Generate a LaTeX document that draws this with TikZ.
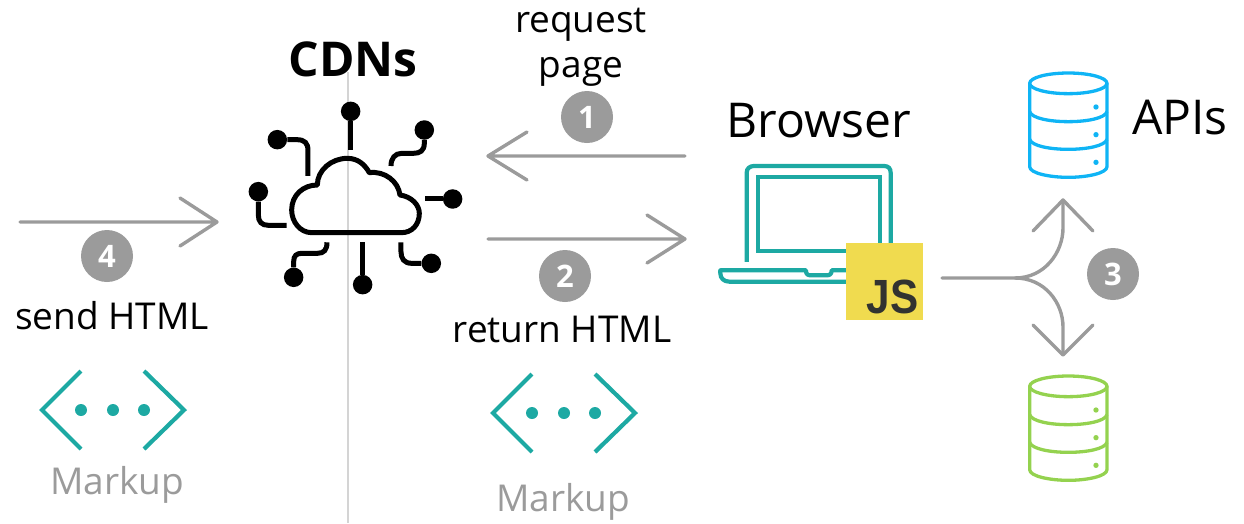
\documentclass[tikz,border=0pt]{standalone}
\usepackage{fontspec}
\setmainfont{Open Sans}
\newfontfamily\jsfont{Liberation Sans}
\definecolor{teal1}{HTML}{1DA9A3}
\definecolor{gr}{HTML}{9B9B9B}
\definecolor{blue1}{HTML}{0FB4F5}
\definecolor{green1}{HTML}{94D24F}
\definecolor{jsy}{HTML}{F0DB4F}
\definecolor{jsd}{HTML}{323330}
\tikzset{
 lbl/.style={anchor=base,inner sep=0pt,font=\fontsize{37}{37}\selectfont,text=black},
 mk/.style={anchor=base,inner sep=0pt,font=\fontsize{37}{37}\selectfont,text=gr},
 flow/.style={draw=gr,line width=3.4pt,line cap=round,line join=round},
 num/.style={circle,fill=gr,minimum size=52pt,inner sep=0pt,text=white,font=\fontsize{31}{31}\selectfont\bfseries},
 tealline/.style={draw=teal1,line width=4.2pt},
 blk/.style={draw=black,line width=5pt},
 pin/.style={circle,fill=black,minimum size=19.5pt,inner sep=0pt},
 dbline/.style={line width=3.3pt,line join=round},
}
\newcommand{\markupicon}[3]{%
 \begin{scope}[shift={(#1,#2)}]
  \draw[tealline] (-32,-39)--(-71,0)--(-32,39);
  \draw[tealline] (31,-39)--(71,0)--(31,39);
  \foreach \xx/\nn in {-32/a,0/b,31/c}{\fill[teal1] (\xx,0) circle (6);}
 \end{scope}}
\newcommand{\dbicon}[3]{%
 \begin{scope}[shift={(#1,#2)},x=0.3333pt,y=-0.3333pt]
  \draw[#3,dbline] (415,70) ellipse [x radius=116,y radius=31];
  \draw[#3,dbline] (299,70)--(299,320) .. controls (299,340) and (360,352) .. (415,352) .. controls (470,352) and (531,340) .. (531,320)--(531,70);
  \draw[#3,dbline] (299,155) .. controls (305,175) and (360,185) .. (415,185) .. controls (470,185) and (525,175) .. (531,155);
  \draw[#3,dbline] (299,238) .. controls (305,258) and (360,268) .. (415,268) .. controls (470,268) and (525,258) .. (531,238);
  \foreach \yy in {141,224,307}{\fill[#3] (498,\yy) circle (8);}
 \end{scope}}
\begin{document}
\begin{tikzpicture}[x=1pt,y=-1pt]
\useasboundingbox (0,0) rectangle (1244,523);
% divider
\coordinate (vt) at (348,72);
\coordinate (vb) at (348,523);
\draw[draw=black!17,line width=1.1pt] (vt)--(vb);
% cloud icon
\begin{scope}[shift={(230,80)},x=0.3333pt,y=-0.3333pt]
 \draw[blk,line join=round] (245,458) .. controls (210,458) and (185,425) .. (185,390) .. controls (185,345) and (220,315) .. (262,315)
   .. controls (262,270) and (305,235) .. (352,235) .. controls (385,235) and (405,255) .. (418,278)
   .. controls (465,272) and (505,305) .. (510,345) .. controls (545,350) and (568,375) .. (568,400) .. controls (568,435) and (545,458) .. (515,458) -- cycle;
 \node[pin] (p1) at (362,94) {}; \draw[blk] (p1)--(362,210);
 \node[pin] (p2) at (583,150) {}; \draw[blk] (p2)--(583,190) .. controls (583,212) and (570,220) .. (550,220) -- (515,220) .. controls (495,220) and (483,235) .. (483,258);
 \node[pin] (p3) at (142,179) {}; \draw[blk] (p3)--(200,179) .. controls (225,179) and (234,190) .. (234,212) -- (234,288);
 \node[pin] (p4) at (85,335) {}; \draw[blk] (p4)--(85,405) .. controls (85,425) and (95,436) .. (115,436) -- (170,436);
 \node[pin] (p5) at (668,357) {}; \draw[blk] (p5)--(584,357);
 \node[pin] (p6) at (191,592) {}; \draw[blk] (p6)--(191,545) .. controls (191,527) and (200,520) .. (215,520) -- (262,520) .. controls (282,520) and (291,510) .. (291,487);
 \node[pin] (p7) at (398,614) {}; \draw[blk] (p7)--(398,487);
 \node[pin] (p8) at (604,550) {}; \draw[blk] (p8)--(545,550) .. controls (522,550) and (513,535) .. (513,515) -- (513,487);
\end{scope}
% laptop
\begin{scope}[shift={(700,150)},x=0.3333pt,y=-0.3333pt]
 \draw[tealline] (140,336)--(140,68) .. controls (140,55) and (150,48) .. (162,48) -- (552,48) .. controls (565,48) and (572,55) .. (572,68) -- (572,290);
 \draw[tealline,line join=miter] (173,82) rectangle (540,304);
 \draw[tealline,line join=round] (440,361)--(395,361) .. controls (395,372) and (390,376) .. (380,376) -- (332,376) .. controls (322,376) and (318,372) .. (318,361) -- (61,361) -- (61,370) .. controls (61,385) and (72,395) .. (88,395) -- (440,395);
 \node[fill=jsy,minimum size=77pt,inner sep=0pt,anchor=south west] (js) at (438,512) {};
 \node[anchor=center,inner sep=0pt,text=jsd,xscale=0.88,font=\fontsize{48}{48}\jsfont\bfseries] (jst) at (578,442) {JS};
\end{scope}
% databases
\dbicon{930}{60}{blue1}
\dbicon{930}{363}{green1}
% flows
\coordinate (a1s) at (685,156); \coordinate (a1e) at (488,156);
\coordinate (a2s) at (488,239); \coordinate (a2e) at (685,239);
\coordinate (a4s) at (20,222);  \coordinate (a4e) at (217,222);
\draw[flow] (a1s)--(a1e) (527,132)--(a1e)--(527,180);
\draw[flow] (a2s)--(a2e) (647,215)--(a2e)--(647,263);
\draw[flow] (a4s)--(a4e) (180,198)--(a4e)--(180,246);
\coordinate (a3s) at (942,278); \coordinate (a3m) at (1015,278);
\coordinate (a3u) at (1063,200); \coordinate (a3d) at (1063,355);
\draw[flow] (a3s)--(a3m) .. controls (1045,278) and (1063,252) .. (1063,228) -- (a3u);
\draw[flow] (a3m) .. controls (1045,278) and (1063,303) .. (1063,327) -- (a3d);
\draw[flow] (1033,231)--(a3u)--(1093,231);
\draw[flow] (1033,325)--(a3d)--(1093,325);
\node[num] (n1) at (587,117) {1};
\node[num] (n2) at (565,276) {2};
\node[num] (n3) at (1113,274) {3};
\node[num] (n4) at (107,256) {4};
% markup
\markupicon{113}{410}{}
\markupicon{564}{413}{}
% labels
\node[lbl] (t1) at (581,32) {request};
\node[lbl] (t2) at (581,77) {page};
\node[lbl,font=\fontsize{48}{48}\selectfont\bfseries] (t3) at (353,76) {CDNs};
\node[lbl,font=\fontsize{48}{48}\selectfont] (t4) at (819,137) {Browser};
\node[lbl,font=\fontsize{48}{48}\selectfont] (t5) at (1180,134) {APIs};
\node[lbl] (t6) at (112,329) {send HTML};
\node[lbl] (t7) at (562,342) {return HTML};
\node[mk] (t8) at (117,494) {Markup};
\node[mk] (t9) at (563,511) {Markup};
\end{tikzpicture}
\end{document}
